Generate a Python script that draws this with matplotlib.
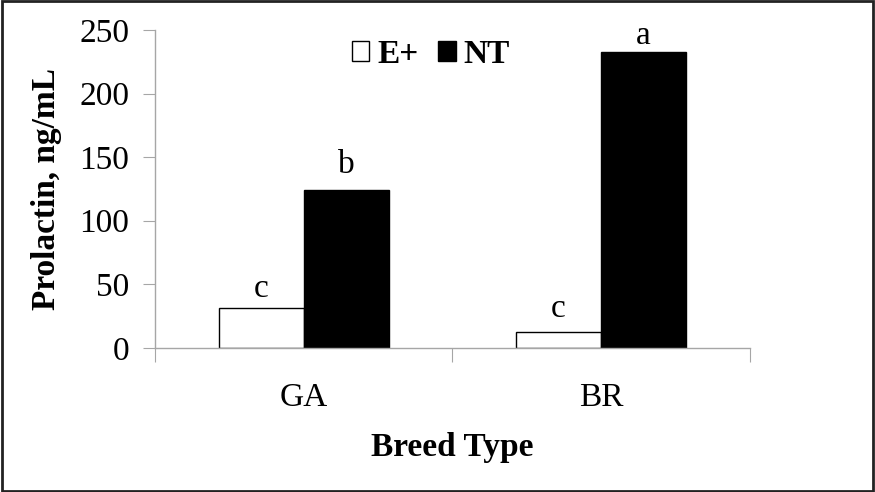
import matplotlib
matplotlib.use("Agg")
import matplotlib.pyplot as plt
import numpy as np

# data
breeds = ["GA", "BR"]
e_plus = [31.4, 12.6]
nt = [124.0, 232.5]
e_letters = ["c", "c"]
nt_letters = ["b", "a"]
# gap (points) between bar top and letter baseline, as placed in the original
e_gap = [8, 11]
nt_gap = [12.5, 6]

AXIS_GRAY = "#A6A6A6"
FS = 24
plt.rcParams["font.family"] = ["Liberation Serif", "DejaVu Serif"]

fig = plt.figure(figsize=(8.75, 4.92), dpi=100)
ax = fig.add_axes([0.177, 0.293, 0.680, 0.646])

x = np.arange(len(breeds))
w = 0.286
b1 = ax.bar(x - w / 2, e_plus, w, color="white", edgecolor="black", linewidth=1.0, label="E+")
b2 = ax.bar(x + w / 2, nt, w, color="black", edgecolor="black", linewidth=1.0, label="NT")

for bars, letters, gaps in ((b1, e_letters, e_gap), (b2, nt_letters, nt_gap)):
    for bar, lab, g in zip(bars, letters, gaps):
        ax.annotate(lab, (bar.get_x() + bar.get_width() / 2, bar.get_height()),
                    xytext=(0, g), textcoords="offset points",
                    ha="center", va="baseline", fontsize=FS)

ax.set_xlim(-0.5, 1.5)
ax.set_ylim(0, 250)
ax.set_yticks([0, 50, 100, 150, 200, 250])
ax.set_xticks([-0.5, 0.5, 1.5])
ax.set_xticklabels([])
ax.set_xticks(x, minor=True)
ax.set_xticklabels(breeds, minor=True, fontsize=FS)
ax.tick_params(axis="x", which="minor", length=0, pad=25)
ax.tick_params(axis="x", which="major", length=10, color=AXIS_GRAY, direction="out")
ax.tick_params(axis="y", length=9, color=AXIS_GRAY, direction="out", labelsize=FS, pad=9.5)

for s in ("top", "right"):
    ax.spines[s].set_visible(False)
for s in ("left", "bottom"):
    ax.spines[s].set_color(AXIS_GRAY)
    ax.spines[s].set_linewidth(1.0)

ax.set_ylabel("Prolactin, ng/mL", fontsize=FS, fontweight="bold", labelpad=12.5)
ax.set_xlabel("Breed Type", fontsize=FS, fontweight="bold", labelpad=13.5)

leg = ax.legend(loc="center", bbox_to_anchor=(0.464, 0.924), ncol=2, frameon=False,
                prop={"size": FS, "weight": "bold"}, handlelength=0.52, handleheight=0.52,
                handletextpad=0.24, columnspacing=0.6, borderpad=0, borderaxespad=0)

# outer frame around the whole picture
fig.patches.append(plt.Rectangle((0.002, 0.003), 0.996, 0.994, transform=fig.transFigure,
                                 fill=False, edgecolor="#222222", linewidth=2.0))

fig.savefig("out.png", dpi=100)
